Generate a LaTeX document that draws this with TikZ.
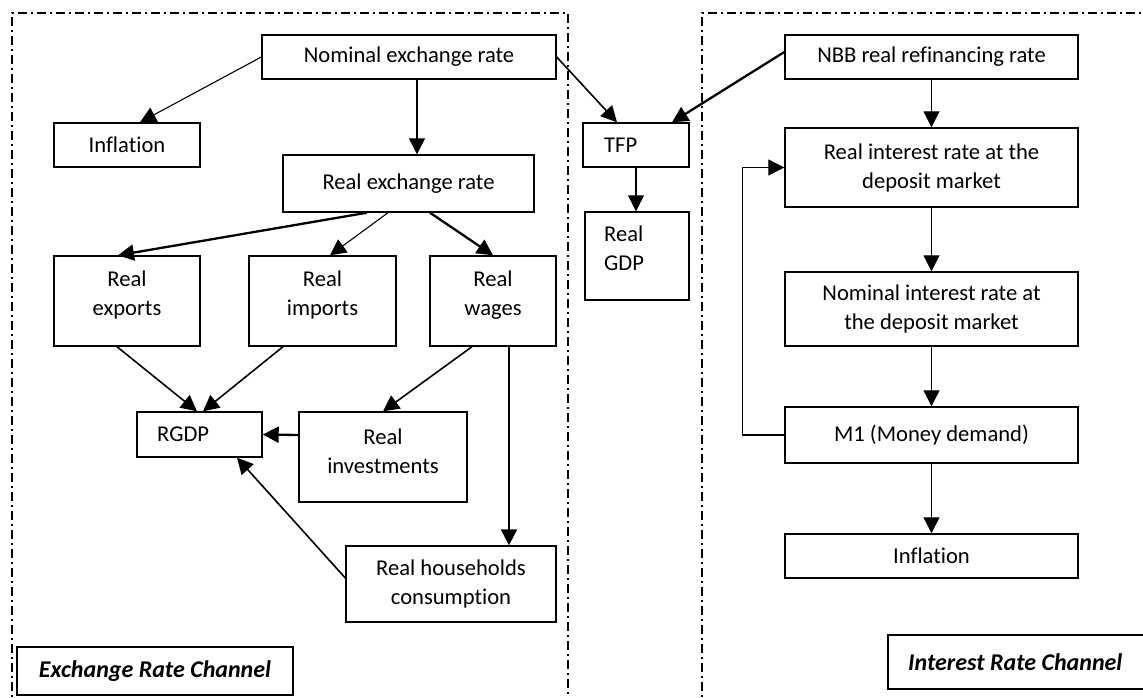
\documentclass[tikz,border=0pt]{standalone}
\usepackage{fontspec}
\setmainfont{Carlito}[Ligatures={NoCommon,NoRare,NoDiscretionary}]
\usetikzlibrary{arrows.meta}
\begin{document}
\begin{tikzpicture}[x=1pt,y=-1pt,
  box/.style={draw, line width=1.4pt, inner sep=0pt, font=\fontsize{22.6}{29}\selectfont, align=center},
  txt/.style={inner sep=0pt, font=\fontsize{22.6}{29}\selectfont, align=center},
  lbl/.style={inner sep=0pt, font=\fontsize{24}{29}\selectfont\bfseries\itshape},
  frame/.style={line width=1.6pt, dash pattern=on 9pt off 4pt on 2pt off 4pt},
  arr/.style={-{Triangle[length=16pt,width=16pt]}, line width=1.1pt},
  marr/.style={-{Triangle[length=16pt,width=16pt]}, line width=1.6pt},
  tarr/.style={-{Triangle[length=16pt,width=16pt]}, line width=2.3pt}]
\useasboundingbox (0,0) rectangle (1143,697);
% frames
\draw[frame] (12,710) -- (12,13) -- (568,13) -- (568,710);
\draw[frame] (702,710) -- (702,13) -- (1160,13);
% left region boxes
\node[box, minimum width=294pt, minimum height=44pt] (nom) at (409,57) {Nominal exchange rate};
\node[box, minimum width=146pt, minimum height=44pt] (inflL) at (127,145) {Inflation};
\node[box, minimum width=251pt, minimum height=57pt] (rex) at (408.5,183.5) {Real exchange rate};
\node[box, minimum width=146pt, minimum height=90pt] (exp) at (127,301) {};
\node[txt] (expt) at (127,295) {Real\\exports};
\node[box, minimum width=147pt, minimum height=90pt] (imp) at (322.5,301) {};
\node[txt] (impt) at (322.5,295) {Real\\imports};
\node[box, minimum width=126pt, minimum height=90pt] (wag) at (493,301) {};
\node[txt] (wagt) at (493,295) {Real\\wages};
\node[box, minimum width=125pt, minimum height=45pt] (rgdp) at (199.5,434.5) {};
\node[txt, anchor=west] (rgdpt) at (157,434.5) {RGDP};
\node[box, minimum width=168pt, minimum height=90pt] (inv) at (383,457) {};
\node[txt] (invt) at (383,451) {Real\\investments};
\node[box, minimum width=210pt, minimum height=76pt] (hh) at (451,584) {Real households\\consumption};
\node[box, minimum width=276pt, minimum height=48pt] (erc) at (155,671) {};
\node[lbl] (erct) at (155,671) {Exchange Rate Channel};
% middle
\node[box, minimum width=106pt, minimum height=44pt] (tfp) at (636,145) {};
\node[txt, anchor=west] (tfpt) at (604,145) {TFP};
\node[box, minimum width=104pt, minimum height=88pt] (rgdpR) at (637,256) {};
\node[txt, anchor=north west, align=left] (rgdpRt) at (604,226) {Real\\GDP};
% right region
\node[box, minimum width=293pt, minimum height=44pt] (nbb) at (931.5,57) {NBB real refinancing rate};
\node[box, minimum width=293pt, minimum height=79pt] (rir) at (931.5,167.5) {Real interest rate at the\\deposit market};
\node[box, minimum width=293pt, minimum height=74pt] (nir) at (931.5,309) {Nominal interest rate at\\the deposit market};
\node[box, minimum width=293pt, minimum height=56pt] (m1) at (931.5,435) {M1 (Money demand)};
\node[box, minimum width=293pt, minimum height=44pt] (inflR) at (931.5,556) {Inflation};
\node[box, minimum width=262pt, minimum height=54pt] (irc) at (1019,662) {};
\node[lbl, anchor=west] (irct) at (908,662) {Interest Rate Channel};
% connectors
\draw[arr] (nom.west) -- ([xshift=13pt]inflL.north);
\draw[arr] ([xshift=8pt]nom.south) -- ([xshift=8pt]nom.south |- rex.north);
\draw[marr] (nom.east) -- ([xshift=-19pt]tfp.north);
\draw[tarr] ([yshift=5pt]nbb.west) -- ([xshift=36pt]tfp.north);
\draw[arr] (nbb.south) -- (rir.north);
\draw[arr] (tfp.south) -- (tfp.south |- rgdpR.north);
\draw[tarr] ([xshift=-41.5pt]rex.south) -- ([xshift=-9pt]exp.north);
\draw[arr] ([xshift=-20.5pt]rex.south) -- ([xshift=7.5pt]imp.north);
\draw[tarr] ([xshift=21.5pt]rex.south) -- (wag.north);
\draw[marr] ([xshift=-10pt]exp.south) -- ([xshift=-2.5pt]rgdp.north);
\draw[marr] ([xshift=-39.5pt]imp.south) -- ([xshift=3.5pt]rgdp.north);
\draw[marr] ([xshift=-21pt]wag.south) -- (inv.north);
\draw[tarr] ([xshift=16pt]wag.south) -- ([xshift=16pt]wag.south |- hh.north);
\draw[tarr] ([yshift=22pt]inv.west) -- (rgdp.east);
\draw[marr] ([yshift=6pt]hh.west) -- ([xshift=37.5pt]rgdp.south);
\draw[arr] (rir.south) -- (nir.north);
\draw[arr] (nir.south) -- (m1.north);
\draw[arr] (m1.south) -- (inflR.north);
\draw[arr] (m1.west) -- ++(-42,0) |- (rir.west);
\end{tikzpicture}
\end{document}
